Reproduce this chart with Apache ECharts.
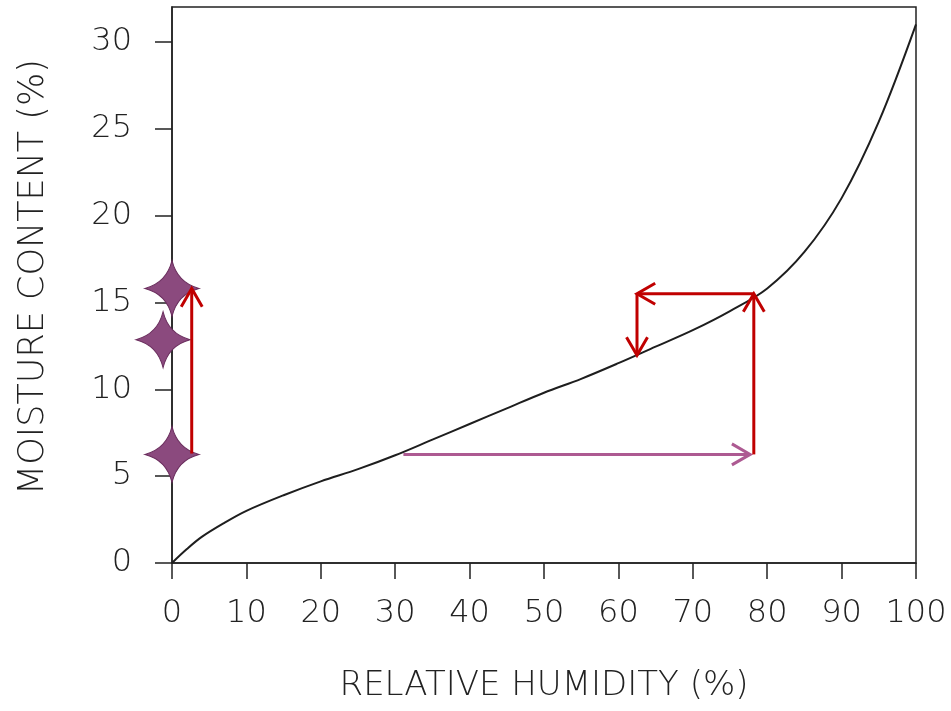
<!DOCTYPE html>
<html>
<head>
<meta charset="utf-8">
<script src="https://cdn.jsdelivr.net/npm/echarts@6/dist/echarts.min.js"></script>
<style>
html,body{margin:0;padding:0;background:#fff;}
#chart{width:951px;height:711px;}
</style>
</head>
<body>
<div id="chart"></div>
<script>
// Relative humidity (%) and moisture content (%) of the sorption curve
const rh = [0, 2, 4, 7, 10, 15, 20, 25, 30, 35, 40, 45, 50, 55, 60, 65, 70, 75, 80, 85, 90, 95, 100];
const mc = [0, 0.8, 1.5, 2.3, 3.0, 3.9, 4.7, 5.4, 6.2, 7.1, 8.0, 8.9, 9.8, 10.6, 11.5, 12.45, 13.4, 14.5, 15.8, 17.9, 21.0, 25.4, 31.0];

const xTicks = [0, 10, 20, 30, 40, 50, 60, 70, 80, 90, 100];
const yTicks = [0, 5, 10, 15, 20, 25, 30];

// Star markers on the moisture axis [rh, mc]
const stars = [[0, 15.8], [-1.2, 12.85], [0, 6.25]];

// Arrows [x1, y1, x2, y2]
const redArrows = [
  [2.65, 6.3, 2.65, 15.8],
  [78.2, 6.25, 78.2, 15.5],
  [78.2, 15.5, 62.5, 15.5],
  [62.5, 15.5, 62.5, 11.95]
];
const pinkArrows = [
  [31.1, 6.25, 77.7, 6.25]
];

const curve = rh.map((x, i) => [x, mc[i]]);

function arrowRenderer(color) {
  return function (params, api) {
    const p1 = api.coord([api.value(0), api.value(1)]);
    const p2 = api.coord([api.value(2), api.value(3)]);
    const ang = Math.atan2(p2[1] - p1[1], p2[0] - p1[0]);
    const L = 21, a = Math.PI / 6;
    const h1 = [p2[0] - L * Math.cos(ang - a), p2[1] - L * Math.sin(ang - a)];
    const h2 = [p2[0] - L * Math.cos(ang + a), p2[1] - L * Math.sin(ang + a)];
    return {
      type: 'group',
      children: [
        { type: 'line', shape: { x1: p1[0], y1: p1[1], x2: p2[0], y2: p2[1] },
          style: { stroke: color, lineWidth: 3 } },
        { type: 'polyline', shape: { points: [h1, p2, h2] },
          style: { stroke: color, lineWidth: 3, fill: null, lineJoin: 'miter' } }
      ]
    };
  };
}

const axisFont = { fontFamily: 'DejaVu Sans', fontWeight: 200, color: '#222' };
const lineCol = '#222';

const chart = echarts.init(document.getElementById('chart'), null, { renderer: 'canvas' });
chart.setOption({
  backgroundColor: '#ffffff',
  animation: false,
  grid: { left: 172, right: 35, top: 7, bottom: 148, show: true, borderColor: lineCol, borderWidth: 1.5, backgroundColor: 'transparent' },
  xAxis: {
    type: 'value', min: 0, max: 100, interval: 10,
    name: 'RELATIVE HUMIDITY (%)', nameLocation: 'middle', nameGap: 106,
    nameTextStyle: Object.assign({ fontSize: 34 }, axisFont),
    axisLine: { show: true, lineStyle: { color: lineCol, width: 1.5 } },
    axisTick: { show: true, length: 16, lineStyle: { color: lineCol, width: 1.5 }, customValues: xTicks },
    axisLabel: Object.assign({ fontSize: 32, margin: 35, customValues: xTicks }, axisFont),
    splitLine: { show: false }
  },
  yAxis: {
    type: 'value', min: 0, max: 32, interval: 5,
    name: 'MOISTURE CONTENT (%)', nameLocation: 'middle', nameGap: 121, nameRotate: 90,
    nameTextStyle: Object.assign({ fontSize: 35, padding: [0, 0, 0, 16] }, axisFont),
    axisLine: { show: true, lineStyle: { color: lineCol, width: 1.5 } },
    axisTick: { show: true, length: 17, lineStyle: { color: lineCol, width: 1.5 }, customValues: yTicks },
    axisLabel: Object.assign({ fontSize: 32, margin: 40, customValues: yTicks }, axisFont),
    splitLine: { show: false }
  },
  series: [
    {
      type: 'line', data: curve, smooth: 0.35, showSymbol: false,
      lineStyle: { color: '#1e1e1e', width: 2 }, z: 2
    },
    {
      type: 'scatter', data: stars, clip: false,
      symbol: 'path://M0,-50 Q10,-10 50,0 Q10,10 0,50 Q-10,10 -50,0 Q-10,-10 0,-50 Z',
      symbolSize: [54, 56],
      itemStyle: { color: '#8b4a7e', borderColor: '#6a2d5d', borderWidth: 1, opacity: 1 }, z: 3
    },
    {
      type: 'custom', data: pinkArrows, renderItem: arrowRenderer('#ad5a92'),
      encode: { x: [0, 2], y: [1, 3] }, clip: false, z: 4
    },
    {
      type: 'custom', data: redArrows, renderItem: arrowRenderer('#c00000'),
      encode: { x: [0, 2], y: [1, 3] }, clip: false, z: 5
    }
  ]
});
</script>
</body>
</html>
